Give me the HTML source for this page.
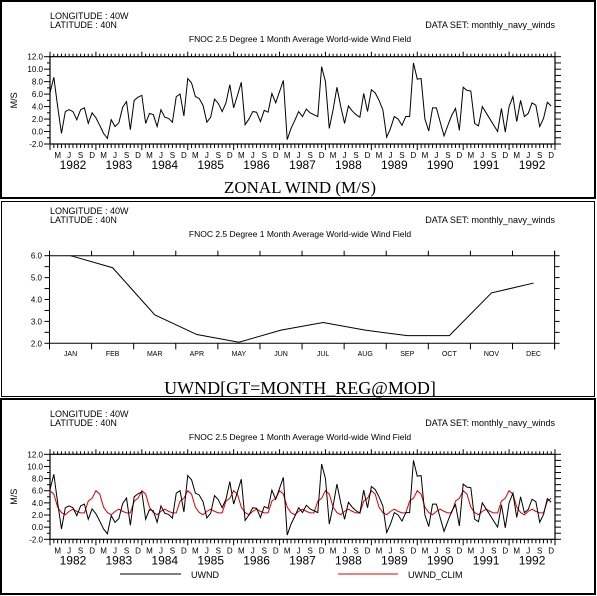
<!DOCTYPE html>
<html><head><meta charset="utf-8"><style>
html,body{margin:0;padding:0;background:#fff}
svg{display:block}
text{font-family:"Liberation Sans",sans-serif;fill:#000}
</style></head><body>
<svg id="c" width="597" height="596" viewBox="0 0 597 596" xmlns="http://www.w3.org/2000/svg">
<rect x="0" y="0" width="597" height="596" fill="#fff"/>
<g fill="none" stroke="#000">
<rect x="1" y="1" width="594" height="197" stroke-width="2"/>
<rect x="1.5" y="201.5" width="593" height="195" stroke-width="1"/>
<rect x="1" y="399" width="594" height="195" stroke-width="2"/>
</g>
</svg>
<script>
const uwnd=[6.2,8.7,4.0,-0.3,3.2,3.5,3.2,1.9,3.5,3.8,1.3,3.0,
2.2,1.0,-0.3,-1.1,1.9,0.8,1.4,3.9,4.8,0.3,5.0,5.5,
5.8,1.3,2.9,2.7,0.8,3.5,2.3,2.1,1.5,5.6,6.0,2.5,
8.5,7.8,5.6,5.3,4.2,1.5,2.3,5.2,4.5,3.2,4.6,7.5,
3.8,5.8,7.9,1.1,2.0,3.2,3.1,1.6,3.4,3.1,6.1,4.6,
6.4,8.2,-1.3,0.5,1.8,3.2,2.4,3.6,3.0,2.7,2.4,10.4,
8.0,0.5,3.5,7.1,4.0,1.3,4.1,3.3,2.7,2.3,6.1,3.2,
6.7,6.2,5.0,3.5,-0.9,0.5,2.4,2.0,1.0,2.4,2.4,11.0,
8.4,8.5,2.0,0.1,3.8,3.8,1.5,-0.7,1.0,2.6,3.7,0.2,
7.1,6.6,6.5,1.3,0.9,4.0,3.0,2.0,1.0,0.0,3.7,-0.1,
4.0,5.6,1.6,5.0,2.4,2.9,4.6,4.2,0.8,2.1,4.7,4.1];
const clim=[6.0,5.45,3.3,2.4,2.05,2.6,2.95,2.6,2.35,2.35,4.3,4.75];
const monthNames=["JAN","FEB","MAR","APR","MAY","JUN","JUL","AUG","SEP","OCT","NOV","DEC"];
const years=["1982","1983","1984","1985","1986","1987","1988","1989","1990","1991","1992"];
const tsTicks=[-2,0,2,4,6,8,10,12];
const climTicks=[2,3,4,5,6];
const NS="http://www.w3.org/2000/svg";
const svg=document.getElementById('c');
function mk(tag,attrs,parent){const e=document.createElementNS(NS,tag);for(const k in attrs)e.setAttribute(k,attrs[k]);(parent||svg).appendChild(e);return e;}
function txt(s,x,y,size,anchor,parent,fam){const t=mk('text',{x:x,y:y,'font-size':size,'text-anchor':anchor||'start'},parent);if(fam)t.setAttribute('style','font-family:'+fam);t.textContent=s;return t;}
function header(y0,g){
  let t;
  t=txt('LONGITUDE : 40W',50,y0+3,9,'start',g);
  
  
  t=txt('LATITUDE : 40N',50,y0+12,9,'start',g);
  
  
  t=txt('DATA SET: monthly_navy_winds',555,y0+12,9,'end',g);
  
  
  t=txt('FNOC 2.5 Degree 1 Month Average World-wide Wind Field',300,y0+26,8.5,'middle',g);
  
  
}
function tsPanel(name,yTop,yBot,series,y0,withClim){
  const g=mk('g',{});
  
  
  header(y0,g);
  const L=50,R=555,n=132;
  const dx=(R-L)/n;
  const X=i=>L+i*dx;
  const Y=v=>yTop+(12-v)*(yBot-yTop)/14;
  mk('rect',{x:L,y:yTop,width:R-L,height:yBot-yTop,fill:'none',stroke:'#000','stroke-width':1.2},g);
  for(let i=0;i<=n;i++){
    const maj=i%12===0;
    mk('line',{x1:X(i),x2:X(i),y1:yTop,y2:yTop-(maj?5:3),stroke:'#000'},g);
    mk('line',{x1:X(i),x2:X(i),y1:yBot,y2:yBot+(maj?6:4),stroke:'#000'},g);
  }
  const ml={2:'M',5:'J',8:'S',11:'D'};
  for(let i=0;i<n;i++){
    const lab=ml[i%12];
    if(!lab)continue;
    const t=txt(lab,X(i),yBot+14,8,'middle',g);
    
    
  }
  years.forEach((yr,k)=>{const t=txt(yr,X(k*12+6),yBot+25,12,'middle',g);});
  for(let v=-2;v<=12;v++){
    mk('line',{x1:L,x2:L-(v%2===0?6:3),y1:Y(v),y2:Y(v),stroke:'#000'},g);
    mk('line',{x1:R,x2:R+6,y1:Y(v),y2:Y(v),stroke:'#000'},g);
  }
  tsTicks.forEach(v=>{const t=txt(v.toFixed(1),43,Y(v)+3,8,'end',g);});
  const yt=txt('M/S',0,0,9,'middle',g);
  yt.setAttribute('transform','translate(17,'+((yTop+yBot)/2)+') rotate(-90)');
  
  
  if(withClim){
    const cp=[];for(let i=0;i<n;i++)cp.push(X(i).toFixed(2)+','+Y(clim[i%12]).toFixed(2));
    const cl=mk('polyline',{points:cp.join(' '),fill:'none',stroke:'#e00000','stroke-width':1},g);
    
    
  }
  const pts=series.map((v,i)=>X(i).toFixed(2)+','+Y(v).toFixed(2));
  const pl=mk('polyline',{points:pts.join(' '),fill:'none',stroke:'#000','stroke-width':1},g);
  
  
  return g;
}
const g1=tsPanel('zonal-wind-panel',56.7,144,uwnd,16,false);
let t=txt('ZONAL WIND (M/S)',300,193,17,'middle',g1,'"Liberation Serif",serif');


(function(){
  const g=mk('g',{});
  
  
  header(211,g);
  const L=49.5,R=554.6,yT=255.7,yB=343.3;
  const w=(R-L)/12;
  const X=i=>L+(i+0.5)*w;
  const Y=v=>yT+(6-v)*(yB-yT)/4;
  mk('line',{x1:L,x2:R,y1:yT,y2:yT,stroke:'#000'},g);
  mk('line',{x1:L,x2:R,y1:yB,y2:yB,stroke:'#000'},g);
  mk('line',{x1:L,x2:L,y1:yT-5,y2:yB+6,stroke:'#000'},g);
  mk('line',{x1:R,x2:R,y1:yT-5,y2:yB+6,stroke:'#000'},g);
  for(let i=0;i<=12;i++){
    mk('line',{x1:L+i*w,x2:L+i*w,y1:yT,y2:yT-5,stroke:'#000'},g);
    mk('line',{x1:L+i*w,x2:L+i*w,y1:yB,y2:yB+6,stroke:'#000'},g);
  }
  for(let v=2;v<=6.01;v+=0.5){
    mk('line',{x1:L,x2:L-5,y1:Y(v),y2:Y(v),stroke:'#000'},g);
    mk('line',{x1:R,x2:R+5,y1:Y(v),y2:Y(v),stroke:'#000'},g);
  }
  climTicks.forEach(v=>{const t=txt(v.toFixed(1),42,Y(v)+3,8,'end',g);});
  monthNames.forEach((m,i)=>{const t=txt(m,X(i),356,7,'middle',g);});
  const pl=mk('polyline',{points:clim.map((v,i)=>X(i).toFixed(2)+','+Y(v).toFixed(2)).join(' '),fill:'none',stroke:'#000','stroke-width':1},g);
  
  
  const tt=txt('UWND[GT=MONTH_REG@MOD]',300,394,18,'middle',g,'"Liberation Serif",serif');
  
  
})();
const g3=tsPanel('comparison-panel',454.3,539.3,uwnd,414,true);
const lg=mk('g',{},g3);


mk('line',{x1:120,x2:181,y1:574,y2:574,stroke:'#000'},lg);
t=txt('UWND',191,578,9,'start',lg);


mk('line',{x1:338,x2:398,y1:574,y2:574,stroke:'#e00000'},lg);
t=txt('UWND_CLIM',408,578,9,'start',lg);


</script>
</body></html>
